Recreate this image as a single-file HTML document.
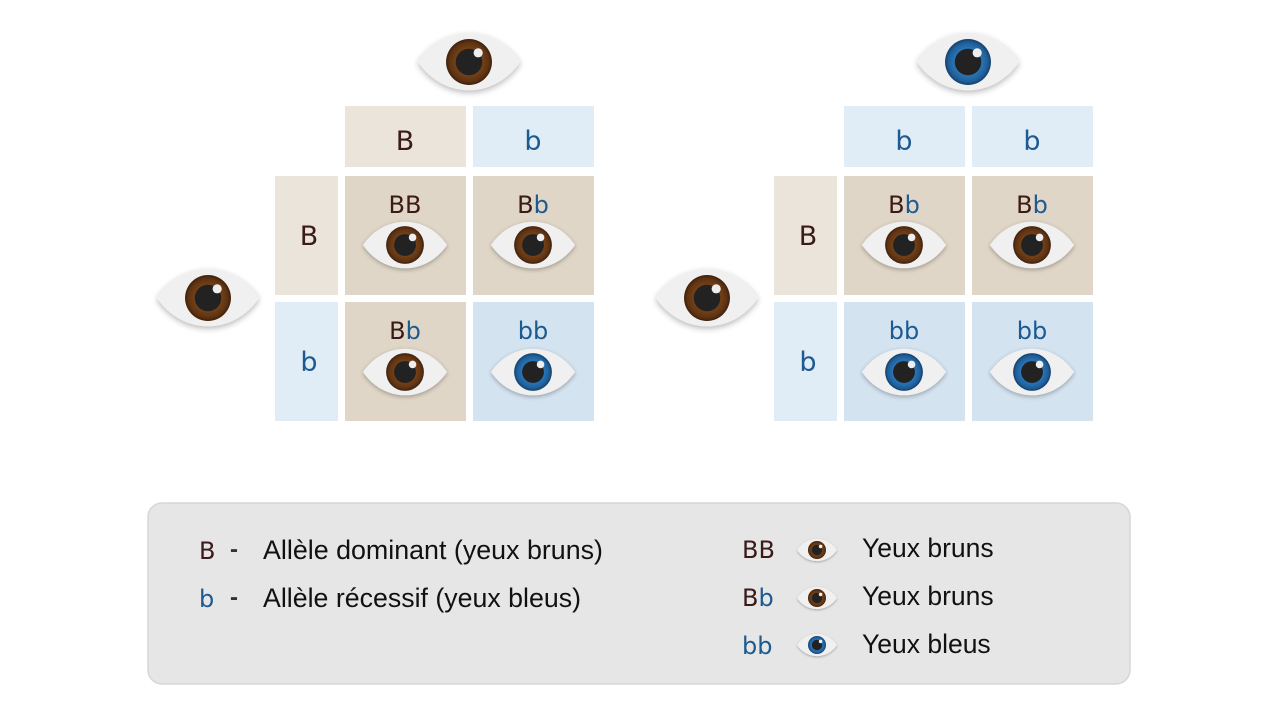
<!DOCTYPE html>
<html><head><meta charset="utf-8"><style>
html,body{margin:0;padding:0;background:#fff;}
svg text{font-family:"Liberation Sans",sans-serif;}
.c{font-family:"DejaVu Sans","Liberation Sans",sans-serif;}
</style></head><body>
<svg width="1280" height="720" viewBox="0 0 1280 720" xmlns="http://www.w3.org/2000/svg">
<defs>
<radialGradient id="gb"><stop offset="0.5" stop-color="#7a4418"/><stop offset="0.85" stop-color="#5e3312"/><stop offset="1" stop-color="#3d200c"/></radialGradient>
<radialGradient id="gl"><stop offset="0.5" stop-color="#2e7bbd"/><stop offset="0.85" stop-color="#1e5f9a"/><stop offset="1" stop-color="#143f66"/></radialGradient>
<filter id="sh" x="-30%" y="-50%" width="160%" height="200%"><feGaussianBlur in="SourceAlpha" stdDeviation="3"/><feOffset dy="2"/><feComponentTransfer><feFuncA type="linear" slope="0.3"/></feComponentTransfer><feMerge><feMergeNode/><feMergeNode in="SourceGraphic"/></feMerge></filter>
<g id="eb"><path d="M-50,0 C-25,-37 25,-37 50,0 C25,37 -25,37 -50,0Z" fill="#f0f0f0" filter="url(#sh)"/><circle r="22.5" fill="url(#gb)"/><circle r="13" fill="#222"/><circle cx="9" cy="-9" r="4.5" fill="#eee"/></g>
<g id="el"><path d="M-50,0 C-25,-37 25,-37 50,0 C25,37 -25,37 -50,0Z" fill="#f0f0f0" filter="url(#sh)"/><circle r="22.5" fill="url(#gl)"/><circle r="13" fill="#222"/><circle cx="9" cy="-9" r="4.5" fill="#eee"/></g>
</defs>

<!-- LEFT GRID -->
<use href="#eb" transform="translate(469,62) scale(1.02)"/>
<use href="#eb" transform="translate(208,298) scale(1.02)"/>
<rect x="345" y="106" width="121" height="61" fill="#ebe4da"/>
<rect x="473" y="106" width="121" height="61" fill="#e0ecf6"/>
<rect x="275" y="176" width="63" height="119" fill="#ebe4da"/>
<rect x="275" y="302" width="63" height="119" fill="#e0ecf6"/>
<rect x="345" y="176" width="121" height="119" fill="#e0d6c7"/>
<rect x="473" y="176" width="121" height="119" fill="#e0d6c7"/>
<rect x="345" y="302" width="121" height="119" fill="#e0d6c7"/>
<rect x="473" y="302" width="121" height="119" fill="#d4e3f0"/>
<g font-size="27" text-anchor="middle">
<text x="405" y="150" fill="#3b1a18" class="c">B</text>
<text x="533" y="150" fill="#1c5a90" class="c">b</text>
<text x="309" y="245" fill="#3b1a18" class="c">B</text>
<text x="309" y="371" fill="#1c5a90" class="c">b</text>
</g>
<g font-size="24" text-anchor="middle">
<text x="405" y="213" fill="#3b1a18" class="c">BB</text>
<text x="533" y="213" class="c"><tspan fill="#3b1a18">B</tspan><tspan fill="#1c5a90">b</tspan></text>
<text x="405" y="339" class="c"><tspan fill="#3b1a18">B</tspan><tspan fill="#1c5a90">b</tspan></text>
<text x="533" y="339" fill="#1c5a90" class="c">bb</text>
</g>
<use href="#eb" transform="translate(405,245) scale(0.84)"/>
<use href="#eb" transform="translate(533,245) scale(0.84)"/>
<use href="#eb" transform="translate(405,372) scale(0.84)"/>
<use href="#el" transform="translate(533,372) scale(0.84)"/>

<!-- RIGHT GRID -->
<use href="#el" transform="translate(968,62) scale(1.02)"/>
<use href="#eb" transform="translate(707,298) scale(1.02)"/>
<rect x="844" y="106" width="121" height="61" fill="#e0ecf6"/>
<rect x="972" y="106" width="121" height="61" fill="#e0ecf6"/>
<rect x="774" y="176" width="63" height="119" fill="#ebe4da"/>
<rect x="774" y="302" width="63" height="119" fill="#e0ecf6"/>
<rect x="844" y="176" width="121" height="119" fill="#e0d6c7"/>
<rect x="972" y="176" width="121" height="119" fill="#e0d6c7"/>
<rect x="844" y="302" width="121" height="119" fill="#d4e3f0"/>
<rect x="972" y="302" width="121" height="119" fill="#d4e3f0"/>
<g font-size="27" text-anchor="middle">
<text x="904" y="150" fill="#1c5a90" class="c">b</text>
<text x="1032" y="150" fill="#1c5a90" class="c">b</text>
<text x="808" y="245" fill="#3b1a18" class="c">B</text>
<text x="808" y="371" fill="#1c5a90" class="c">b</text>
</g>
<g font-size="24" text-anchor="middle">
<text x="904" y="213" class="c"><tspan fill="#3b1a18">B</tspan><tspan fill="#1c5a90">b</tspan></text>
<text x="1032" y="213" class="c"><tspan fill="#3b1a18">B</tspan><tspan fill="#1c5a90">b</tspan></text>
<text x="904" y="339" fill="#1c5a90" class="c">bb</text>
<text x="1032" y="339" fill="#1c5a90" class="c">bb</text>
</g>
<use href="#eb" transform="translate(904,245) scale(0.84)"/>
<use href="#eb" transform="translate(1032,245) scale(0.84)"/>
<use href="#el" transform="translate(904,372) scale(0.84)"/>
<use href="#el" transform="translate(1032,372) scale(0.84)"/>

<!-- LEGEND -->
<rect x="148" y="503" width="982" height="181" rx="14" fill="#e6e6e6" stroke="#d6d6d6" stroke-width="1.5"/>
<g font-size="24">
<text x="199" y="559" fill="#3b1a18" class="c">B</text>
<text x="230" y="557" fill="#333" font-weight="bold">-</text>
<text x="199" y="607" fill="#1c5a90" class="c">b</text>
<text x="230" y="605" fill="#333" font-weight="bold">-</text>
<text x="742" y="558" class="c" fill="#3b1a18">BB</text>
<text x="742" y="606" class="c"><tspan fill="#3b1a18">B</tspan><tspan fill="#1c5a90">b</tspan></text>
<text x="742" y="654" class="c" fill="#1c5a90">bb</text>
</g>
<g font-size="26.5" fill="#111">
<text x="263" y="559" textLength="340" lengthAdjust="spacingAndGlyphs">Allèle dominant (yeux bruns)</text>
<text x="263" y="607" textLength="318" lengthAdjust="spacingAndGlyphs">Allèle récessif (yeux bleus)</text>
<text x="862" y="557">Yeux bruns</text>
<text x="862" y="605">Yeux bruns</text>
<text x="862" y="653">Yeux bleus</text>
</g>
<use href="#eb" transform="translate(817,550) scale(0.4)"/>
<use href="#eb" transform="translate(817,598) scale(0.4)"/>
<use href="#el" transform="translate(817,645) scale(0.4)"/>
</svg>
</body></html>
